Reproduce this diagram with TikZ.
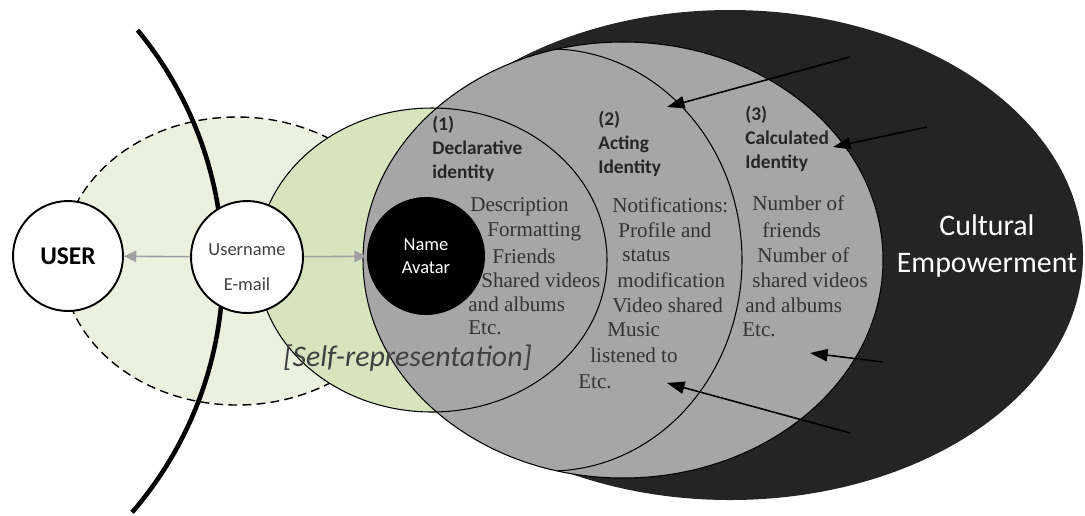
\documentclass[tikz,border=0pt]{standalone}
\usepackage{fontspec}
\setmainfont{Liberation Serif}
\newfontfamily\carl{Carlito}
\usetikzlibrary{arrows.meta}
\definecolor{palegreen}{HTML}{EBF0DF}
\definecolor{selfgreen}{HTML}{D7E4BD}
\definecolor{idgray}{HTML}{A6A6A6}
\definecolor{culture}{HTML}{242424}
\definecolor{arrowgray}{HTML}{A0A0A0}
\definecolor{bodytext}{HTML}{333333}
\begin{document}
\begin{tikzpicture}[x=0.02cm,y=0.02cm,
  outline/.style={draw=black,line width=0.6pt},
  bubble/.style={circle,draw=black,line width=1.1pt,fill=white,inner sep=0pt},
  body/.style={anchor=west,inner sep=0pt,text=bodytext,font=\fontsize{12}{14}\selectfont},
  idlabel/.style={anchor=west,inner sep=0pt,align=left,text=black!85,font=\carl\bfseries\fontsize{11}{13.5}\selectfont},
  linkarrow/.style={draw=arrowgray,line width=0.9pt,-{Triangle[length=7pt,width=6.5pt]},arrowgray},
  pointer/.style={draw=black,line width=0.9pt,-{Triangle[length=10pt,width=7pt]}},
]
\useasboundingbox (0,0) rectangle (1085,-515);
\fill[white] (0,0) rectangle (1085,-515);
% pale dashed ellipse
\draw[fill=palegreen,dash pattern=on 5pt off 3pt,line width=0.8pt] (237,-261) ellipse[x radius=175,y radius=144];
% thick boundary arc
\draw[line width=2.6pt] ([shift={(39.5:374)}]-151,-268) arc[start angle=39.5,end angle=-40.8,radius=374];
% self-representation ellipse (fill)
\fill[selfgreen] (432,-260) ellipse[x radius=175,y radius=152];
% cultural empowerment
\fill[culture] (730,-255) ellipse[x radius=353,y radius=245];
% calculated identity
\draw[outline,fill=idgray] (623,-260) ellipse[x radius=260,y radius=218];
% acting identity
\begin{scope}
\clip (623,-260) ellipse[x radius=260,y radius=218];
\draw[outline] ([shift={(100:192 and 211)}]550,-260) arc[start angle=100,end angle=-100,x radius=192,y radius=211];
\end{scope}
% declarative identity outline
\draw[outline] (432,-260) ellipse[x radius=175,y radius=152];

% labels
\node[idlabel] (l1) at (432,-149) {(1)\\Declarative\\identity};
\node[idlabel] (l2) at (598,-144) {(2)\\Acting\\Identity};
\node[idlabel] (l3) at (745,-139) {(3)\\Calculated\\Identity};

% body texts
\node[body] (d1) at (470,-207) {Description};
\node[body] (d2) at (487,-232) {Formatting};
\node[body] (d3) at (492,-256) {Friends};
\node[body] (d4) at (481,-280) {Shared videos};
\node[body] (d5) at (468,-304) {and albums};
\node[body] (d6) at (468,-328) {Etc.};

\node[body] (a1) at (612,-205) {Notifications:};
\node[body] (a2) at (618,-230) {Profile and};
\node[body] (a3) at (622,-256) {status};
\node[body] (a4) at (617,-280) {modification};
\node[body] (a5) at (612,-305) {Video shared};
\node[body] (a6) at (607,-330) {Music};
\node[body] (a7) at (590,-355) {listened to};
\node[body] (a8) at (578,-382) {Etc.};

\node[body] (c1) at (752,-203) {Number of};
\node[body] (c2) at (762,-230) {friends};
\node[body] (c3) at (757,-255) {Number of};
\node[body] (c4) at (752,-280) {shared videos};
\node[body] (c5) at (745,-305) {and albums};
\node[body] (c6) at (742,-330) {Etc.};

\node[anchor=west,inner sep=0pt,text=black!75,font=\carl\itshape\fontsize{17}{20}\selectfont] (selfrep) at (283,-358) {[Self-representation]};

\node[align=center,inner sep=0pt,text=white,font=\carl\fontsize{17}{21}\selectfont] (culturetext) at (987,-246) {Cultural\\Empowerment};

% circles
\node[bubble,minimum size=2.2cm] (user) at (68,-256) {\carl\bfseries\fontsize{14.5}{16}\selectfont USER};
\node[bubble,minimum size=2.24cm] (uname) at (247,-257) {};
\node[align=center,inner sep=0pt,text=black!75,font=\carl\fontsize{10.5}{20}\selectfont] (unametext) at (247,-267) {Username\\E-mail};
\node[circle,fill=black,inner sep=0pt,minimum size=2.36cm,align=center,text=white,font=\carl\fontsize{10.5}{13}\selectfont] (avatar) at (426,-256) {Name\\Avatar};

\draw[linkarrow] (uname) -- (user);
\draw[linkarrow] (uname) -- (avatar);

% pointers
\coordinate (p1s) at (850,-57);  \coordinate (p1e) at (667,-107);
\coordinate (p2s) at (927,-127); \coordinate (p2e) at (833,-147);
\coordinate (p3s) at (883,-362); \coordinate (p3e) at (810,-353);
\coordinate (p4s) at (850,-433); \coordinate (p4e) at (667,-383);
\draw[pointer] (p1s) -- (p1e);
\draw[pointer] (p2s) -- (p2e);
\draw[pointer] (p3s) -- (p3e);
\draw[pointer] (p4s) -- (p4e);
\end{tikzpicture}
\end{document}
